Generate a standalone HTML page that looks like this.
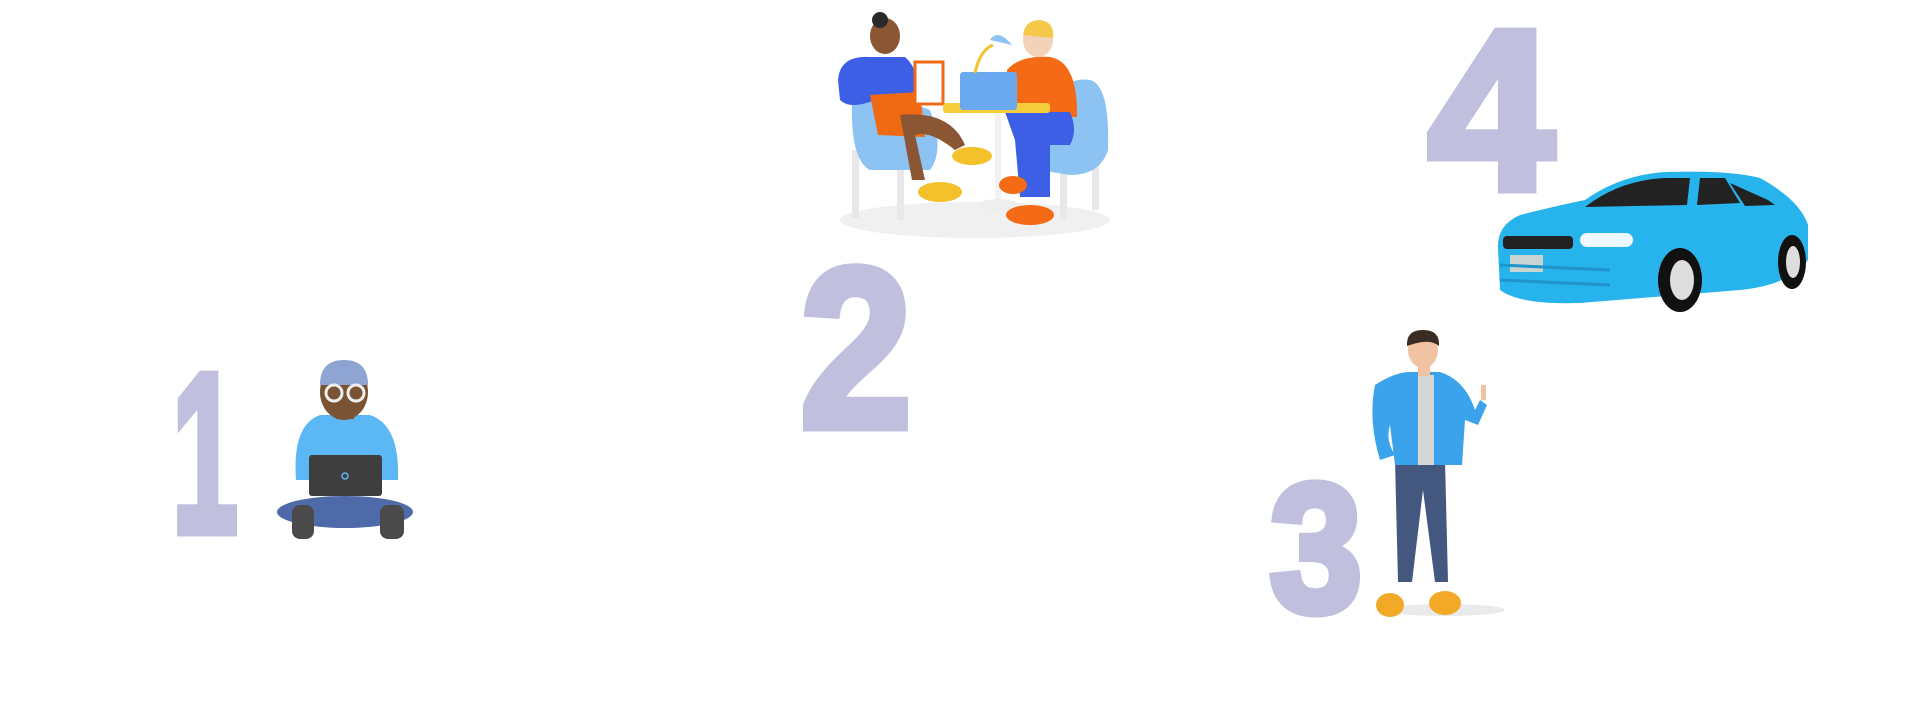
<!DOCTYPE html>
<html><head><meta charset="utf-8"><style>
html,body{margin:0;padding:0;background:#fff;width:1920px;height:722px;overflow:hidden}
svg{display:block}
</style></head><body>
<svg width="1920" height="722" viewBox="0 0 1920 722" xmlns="http://www.w3.org/2000/svg">
<g font-family="Liberation Sans, sans-serif" font-weight="700" fill="#c0c0de" stroke="#c0c0de" stroke-width="9" stroke-linejoin="miter">
<text x="172" y="532" font-size="228" textLength="66" lengthAdjust="spacingAndGlyphs">1</text>
<text x="800" y="427" font-size="228" textLength="112" lengthAdjust="spacingAndGlyphs">2</text>
<text x="1270" y="611" font-size="182" textLength="92" lengthAdjust="spacingAndGlyphs">3</text>
<text x="1428" y="189" font-size="228" textLength="126" lengthAdjust="spacingAndGlyphs">4</text>
</g>

<!-- Person 1 -->
<g>
<ellipse cx="345" cy="512" rx="68" ry="16" fill="#4f6aa8"/>
<rect x="292" y="505" width="22" height="34" rx="8" fill="#4a4a4a"/>
<rect x="380" y="505" width="24" height="34" rx="8" fill="#4a4a4a"/>
<path d="M296 480 Q292 425 320 415 L370 415 Q400 425 398 480 Z" fill="#5bb8f5"/>
<rect x="336" y="405" width="18" height="14" fill="#7a5234"/>
<ellipse cx="344" cy="392" rx="24" ry="28" fill="#7a5234"/>
<path d="M320 385 Q320 360 344 360 Q368 360 368 385 Z" fill="#8ea4d2"/>
<circle cx="334" cy="393" r="8" fill="none" stroke="#eee" stroke-width="3"/>
<circle cx="356" cy="393" r="8" fill="none" stroke="#eee" stroke-width="3"/>
<rect x="309" y="455" width="73" height="41" rx="3" fill="#3e3e3e"/>
<circle cx="345" cy="476" r="3" fill="none" stroke="#5bb8f5" stroke-width="1.5"/>
</g>

<!-- Meeting scene -->
<g>
<ellipse cx="975" cy="220" rx="135" ry="18" fill="#f0f0f0"/>
<rect x="852" y="150" width="7" height="68" fill="#e8e8ec"/>
<rect x="897" y="160" width="7" height="60" fill="#e8e8ec"/>
<rect x="1060" y="160" width="7" height="60" fill="#e8e8ec"/>
<rect x="1092" y="150" width="7" height="60" fill="#e8e8ec"/>
<path d="M852 100 Q848 85 870 88 L930 110 Q945 150 930 170 L870 170 Q850 160 852 100 Z" fill="#8dc3f2"/>
<path d="M1040 120 Q1060 75 1090 80 Q1110 85 1108 150 Q1100 175 1070 175 L1040 170 Z" fill="#8dc3f2"/>
<rect x="995" y="112" width="6" height="90" fill="#f2f2f2"/>
<ellipse cx="998" cy="205" rx="20" ry="6" fill="#eee"/>
<path d="M838 80 Q840 55 870 57 L905 57 Q920 70 918 97 L875 100 Q850 110 840 100 Z" fill="#3c5fe6"/>
<path d="M870 95 L920 92 L925 137 L878 135 Z" fill="#f06a14"/>
<path d="M900 115 Q950 110 965 145 L955 150 Q930 130 915 135 L925 180 L912 180 Z" fill="#8a5634"/>
<ellipse cx="940" cy="192" rx="22" ry="10" fill="#f2c12c"/>
<ellipse cx="972" cy="156" rx="20" ry="9" fill="#f2c12c"/>
<ellipse cx="885" cy="36" rx="15" ry="18" fill="#8a5634"/>
<circle cx="880" cy="20" r="8" fill="#2a2a2a"/>
<rect x="915" y="62" width="28" height="42" fill="#fff" stroke="#f06a14" stroke-width="3"/>
<path d="M1007 70 Q1020 55 1050 57 Q1078 62 1077 117 L1010 117 Z" fill="#f56a14"/>
<path d="M1005 112 L1070 112 Q1078 130 1070 145 L1050 145 L1050 197 L1020 197 L1015 140 Z" fill="#3c5fe6"/>
<ellipse cx="1030" cy="215" rx="24" ry="10" fill="#f56a14"/>
<ellipse cx="1013" cy="185" rx="14" ry="9" fill="#f56a14"/>
<ellipse cx="1038" cy="40" rx="15" ry="17" fill="#f3d2b8"/>
<path d="M1023 35 Q1025 20 1040 20 Q1055 22 1053 38 Z" fill="#f4c94a"/>
<rect x="943" y="103" width="107" height="10" rx="3" fill="#f6cd3a"/>
<rect x="960" y="72" width="57" height="38" rx="3" fill="#6aa8f0"/>
<path d="M975 73 Q980 50 993 45" stroke="#f2c12c" stroke-width="3" fill="none"/>
<path d="M990 40 Q998 28 1012 45 Z" fill="#8dc3f2"/>
</g>

<!-- Car -->
<g>
<path d="M1498 248 Q1497 225 1520 215 Q1560 205 1585 200 Q1620 175 1665 172 Q1730 170 1760 178 Q1800 200 1808 225 L1808 260 Q1790 285 1740 290 L1580 303 Q1520 305 1500 290 Z" fill="#27b4ec"/>
<path d="M1585 207 Q1620 180 1665 178 L1690 178 L1687 205 Z" fill="#222"/>
<path d="M1700 178 L1725 178 L1740 203 L1697 205 Z" fill="#222"/>
<path d="M1730 183 L1768 200 L1775 205 L1745 206 Z" fill="#222"/>
<rect x="1503" y="236" width="70" height="13" rx="4" fill="#222"/>
<rect x="1580" y="233" width="53" height="14" rx="7" fill="#eef8ff"/>
<rect x="1510" y="255" width="33" height="17" fill="#c7d4d2"/>
<path d="M1500 265 L1610 270 M1500 280 L1610 285" stroke="#1e93cc" stroke-width="3"/>
<ellipse cx="1680" cy="280" rx="22" ry="32" fill="#111"/>
<ellipse cx="1682" cy="280" rx="12" ry="20" fill="#ddd"/>
<ellipse cx="1792" cy="262" rx="14" ry="27" fill="#111"/>
<ellipse cx="1793" cy="262" rx="7" ry="16" fill="#ddd"/>
</g>

<!-- Man 3 -->
<g>
<ellipse cx="1445" cy="610" rx="60" ry="6" fill="#eaeaea"/>
<path d="M1395 460 L1445 460 L1448 582 L1435 582 L1423 490 L1412 582 L1398 582 Z" fill="#44577e"/>
<ellipse cx="1390" cy="605" rx="14" ry="12" fill="#f2a928"/>
<ellipse cx="1445" cy="603" rx="16" ry="12" fill="#f2a928"/>
<path d="M1375 385 Q1395 372 1410 372 L1440 372 Q1465 380 1475 410 L1480 400 L1487 405 L1478 425 L1465 420 L1462 465 L1395 465 L1390 425 Q1385 440 1395 455 L1380 460 Q1368 420 1375 385 Z" fill="#3ba3ec"/>
<rect x="1418" y="375" width="16" height="90" fill="#d7d7d7"/>
<rect x="1481" y="385" width="5" height="15" fill="#f1c3a3"/>
<rect x="1418" y="362" width="12" height="14" fill="#f1c3a3"/>
<ellipse cx="1423" cy="350" rx="15" ry="18" fill="#f1c3a3"/>
<path d="M1407 346 Q1406 330 1423 330 Q1440 330 1439 346 Q1430 338 1410 345 Z" fill="#3a2c22"/>
</g>
</svg>
</body></html>
